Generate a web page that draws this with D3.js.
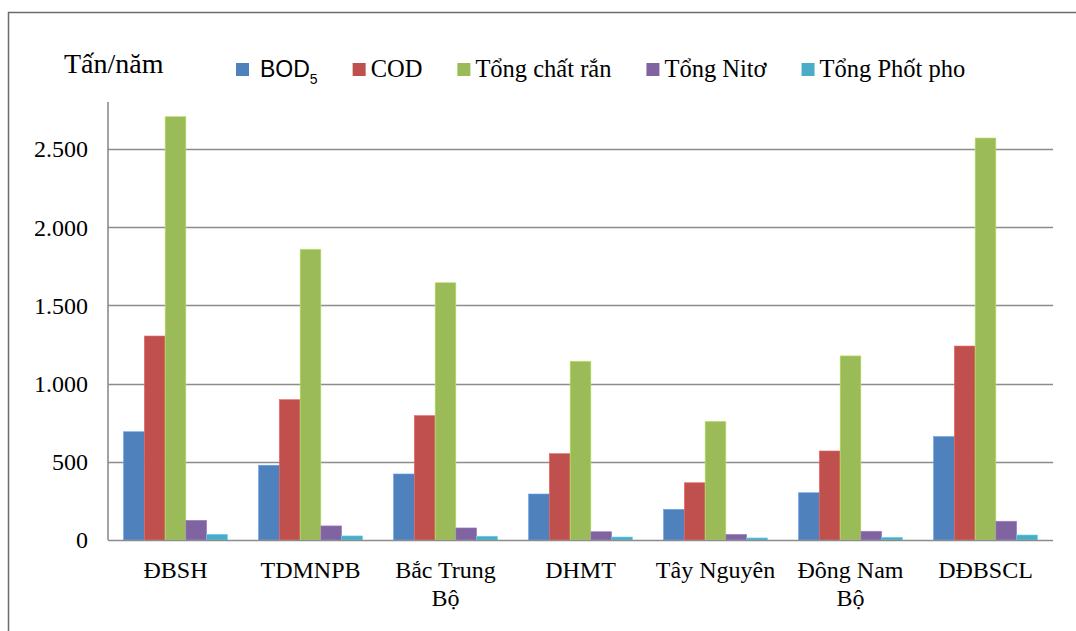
<!DOCTYPE html>
<html>
<head>
<meta charset="utf-8">
<script src="https://cdn.jsdelivr.net/npm/d3@7"></script>
<style>
  html, body { margin: 0; padding: 0; background: #fff; }
  svg { display: block; }
  .serif { font-family: "Liberation Serif", "Times New Roman", serif; }
  .sans { font-family: "Liberation Sans", Arial, sans-serif; }
</style>
</head>
<body>
<div id="chart"></div>
<script>
// Tải lượng ô nhiễm theo vùng (tấn/năm)
const CATEGORIES = ['ĐBSH', 'TDMNPB', 'Bắc Trung\nBộ', 'DHMT', 'Tây Nguyên', 'Đông Nam\nBộ', 'DĐBSCL'];
const SERIES = ['BOD', 'COD', 'Tổng chất rắn', 'Tổng Nitơ', 'Tổng Phốt pho'];
const COLORS = ['#4F81BD', '#C0504D', '#9BBB59', '#8064A2', '#4BACC6'];

const BOD5     = [692, 478, 422, 294, 196, 302, 661];
const COD      = [1304, 897, 795, 552, 366, 569, 1240];
const TSS      = [2707, 1859, 1645, 1143, 759, 1177, 2570];
const NITO     = [126, 90, 77, 53, 36, 56, 120];
const PHOTPHO  = [36, 26, 24, 19, 13, 17, 32];
const VALUES = [BOD5, COD, TSS, NITO, PHOTPHO];

const Y_TICKS = [0, 500, 1000, 1500, 2000, 2500];
const Y_MAX = 2800;

const W = 1076, H = 631;
const m = { t: 102, r: 23, b: 91, l: 108 };

const svg = d3.select('#chart').append('svg')
  .attr('width', W).attr('height', H)
  .attr('viewBox', `0 0 ${W} ${H}`);

// outer frame (only top + left visible in the crop)
svg.append('path')
  .attr('d', `M8.5,${H + 5} V12.5 H${W + 5}`)
  .attr('fill', 'none')
  .attr('stroke', '#6b6b6b').attr('stroke-width', 1.5);

const x0 = d3.scaleBand()
  .domain(CATEGORIES)
  .range([m.l, W - m.r])
  .paddingInner(0)
  .paddingOuter(0);

// Excel-like gap width 150%: 5 bars + 1.5 bar of gap per category
const barW = x0.bandwidth() / 6.5;
const x1 = d3.scaleBand()
  .domain(d3.range(SERIES.length))
  .range([0.75 * barW, 0.75 * barW + 5 * barW]);

const y = d3.scaleLinear()
  .domain([0, Y_MAX])
  .range([H - m.b, m.t]);

const fmt = d3.formatLocale({ decimal: ',', thousands: '.', grouping: [3], currency: ['', ''] }).format(',');

// gridlines
svg.append('g').selectAll('line').data(Y_TICKS.filter(d => d > 0)).join('line')
  .attr('x1', m.l).attr('x2', W - m.r)
  .attr('y1', d => Math.round(y(d)) + 0.5).attr('y2', d => Math.round(y(d)) + 0.5)
  .attr('stroke', '#8c8c8c').attr('stroke-width', 1.6);

// bars
const gBars = svg.append('g');
VALUES.forEach((vals, si) => {
  gBars.append('g').selectAll('rect').data(vals).join('rect')
    .attr('x', (d, i) => x0(CATEGORIES[i]) + x1(si))
    .attr('width', x1.bandwidth())
    .attr('y', d => y(d))
    .attr('height', d => y(0) - y(d))
    .attr('fill', COLORS[si])
    .attr('stroke', d3.color(COLORS[si]).brighter(0.6))
    .attr('stroke-width', 0.6);
});

// axes lines
svg.append('line')
  .attr('x1', m.l).attr('x2', m.l).attr('y1', m.t).attr('y2', y(0))
  .attr('stroke', '#8c8c8c').attr('stroke-width', 1.6);
svg.append('line')
  .attr('x1', m.l).attr('x2', W - m.r).attr('y1', Math.round(y(0)) + 0.5).attr('y2', Math.round(y(0)) + 0.5)
  .attr('stroke', '#8c8c8c').attr('stroke-width', 1.6);

// y tick labels
svg.append('g').selectAll('text').data(Y_TICKS).join('text')
  .attr('class', 'serif')
  .attr('x', m.l - 20)
  .attr('y', d => y(d))
  .attr('dy', '0.35em')
  .attr('text-anchor', 'end')
  .style('font-size', '24px').attr('fill', '#000')
  .text(d => fmt(d));

// category labels
const gCat = svg.append('g');
CATEGORIES.forEach(c => {
  const t = gCat.append('text')
    .attr('class', 'serif')
    .attr('text-anchor', 'middle')
    .style('font-size', '24px').attr('fill', '#000');
  c.split('\n').forEach((line, li) => {
    t.append('tspan')
      .attr('x', x0(c) + x0.bandwidth() / 2)
      .attr('y', 578 + li * 28)
      .text(line);
  });
});

// unit title
svg.append('text')
  .attr('class', 'serif')
  .attr('x', 64).attr('y', 73)
  .style('font-size', '28px').attr('fill', '#000')
  .text('Tấn/năm');

// legend
const gLeg = svg.append('g');
let lx = 236;
SERIES.forEach((s, i) => {
  gLeg.append('rect')
    .attr('x', lx).attr('y', 63)
    .attr('width', 13).attr('height', 13)
    .attr('fill', COLORS[i]);
  let t;
  if (i === 0) {
    t = gLeg.append('text')
      .attr('class', 'sans')
      .attr('x', lx + 24).attr('y', 77)
      .style('font-size', '23px').attr('fill', '#000');
    t.append('tspan').text(s);
    t.append('tspan').style('font-size', '14px').attr('dy', 7).text('5');
  } else {
    t = gLeg.append('text')
      .attr('class', 'serif')
      .attr('x', lx + 18).attr('y', 77)
      .style('font-size', '24.5px').attr('fill', '#000')
      .text(s);
  }
  const tx = +t.attr('x');
  lx = tx + t.node().getComputedTextLength() + 35;
});
</script>
</body>
</html>
